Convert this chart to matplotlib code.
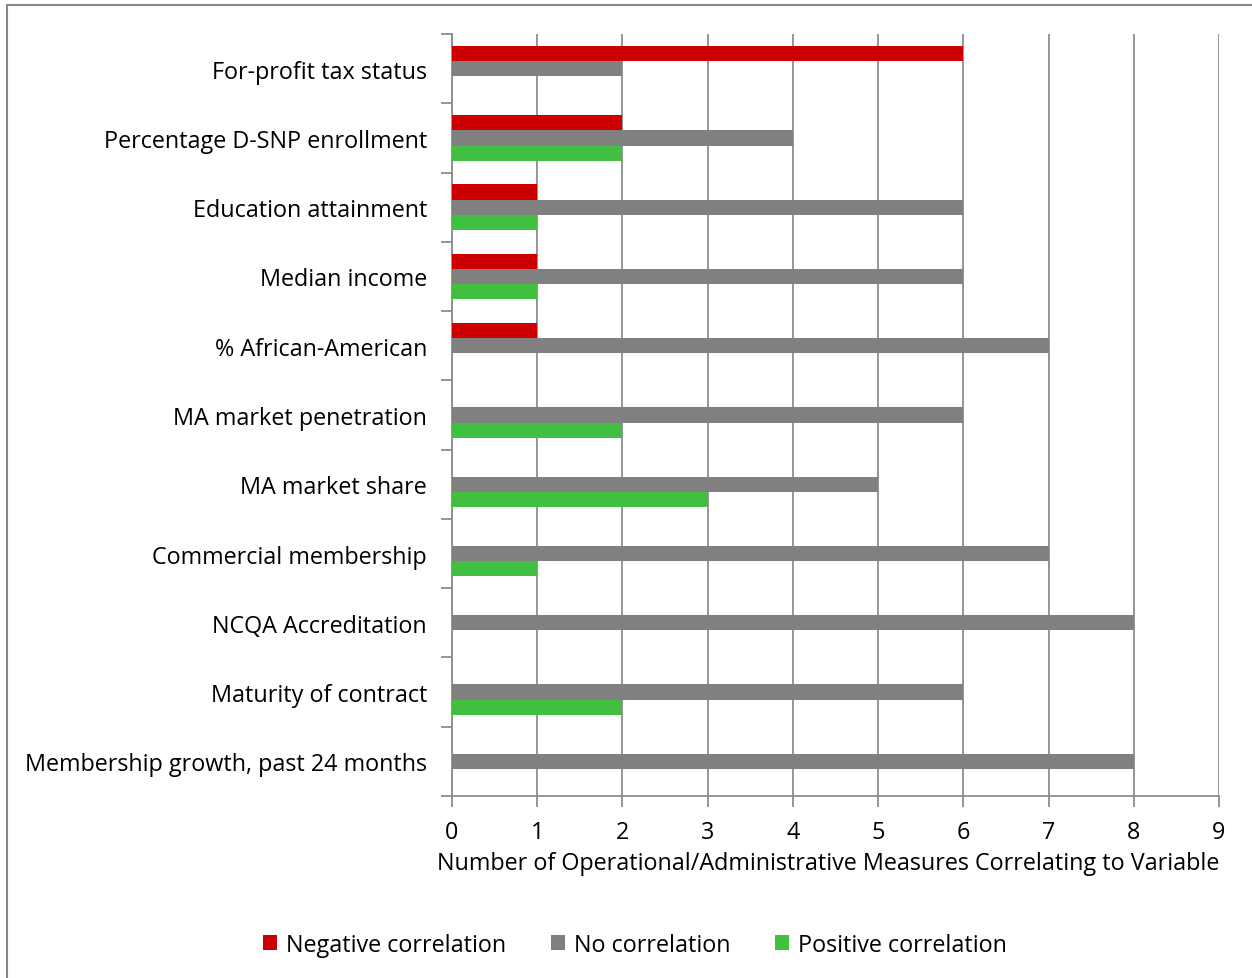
import numpy as np
import matplotlib.pyplot as plt
from matplotlib.patches import Rectangle

variables = ['For-profit tax status', 'Percentage D-SNP enrollment', 'Education attainment',
             'Median income', '% African-American', 'MA market penetration', 'MA market share',
             'Commercial membership', 'NCQA Accreditation', 'Maturity of contract',
             'Membership growth, past 24 months']
negative = [6, 2, 1, 1, 1, 0, 0, 0, 0, 0, 0]
no_corr = [2, 4, 6, 6, 7, 6, 5, 7, 8, 6, 8]
positive = [0, 2, 1, 1, 0, 2, 3, 1, 0, 2, 0]
series_names = ['Negative correlation', 'No correlation', 'Positive correlation']
colors = ['#cc0000', '#808080', '#40bf40']

plt.rcParams['font.family'] = ['Open Sans', 'DejaVu Sans']
fs = 16.8

fig = plt.figure(figsize=(12.52, 9.79), dpi=100)
ax = fig.add_axes([452 / 1252, 1 - 797 / 979, (1219 - 452) / 1252, (797 - 35) / 979])

# frame around the whole chart
fig.patches.append(Rectangle((7 / 1252, -0.1), 1.2, 1.1 - 6 / 979, transform=fig.transFigure,
                             fill=False, edgecolor='#888888', linewidth=1.5, zorder=0))

pos = np.arange(len(variables))
h = 0.22
for k, (vals, c) in enumerate(zip([negative, no_corr, positive], colors)):
    ax.barh(pos + (k - 1) * h, vals, height=h, color=c, label=series_names[k], zorder=3)

ax.set_xlim(0, 9)
ax.set_ylim(len(variables) - 0.5, -0.5)
ax.set_xticks(range(10))
ax.grid(axis='x', color='#8c8c8c', linewidth=1.3, zorder=0)
ax.set_yticks(pos)
ax.set_yticklabels(variables)
ax.set_yticks(np.arange(len(variables) + 1) - 0.5, minor=True)
ax.tick_params(axis='y', which='major', length=0, pad=18, labelsize=fs)
ax.tick_params(axis='y', which='minor', length=8, color='#8c8c8c', width=1.3)
ax.tick_params(axis='x', length=8, color='#8c8c8c', width=1.3, labelsize=fs, pad=9)
for s in ['top', 'right']:
    ax.spines[s].set_visible(False)
for s in ['left', 'bottom']:
    ax.spines[s].set_color('#8c8c8c')
    ax.spines[s].set_linewidth(1.3)
ax.set_xlabel('Number of Operational/Administrative Measures Correlating to Variable', fontsize=fs)
ax.xaxis.set_label_coords(0.491, -0.072)

fig.legend(loc='center', bbox_to_anchor=(635 / 1252, 1 - 946 / 979), ncol=3, frameon=False,
           fontsize=fs, handlelength=0.6, handleheight=0.6, handletextpad=0.4, columnspacing=1.9)

fig.savefig('out.png', dpi=100)
